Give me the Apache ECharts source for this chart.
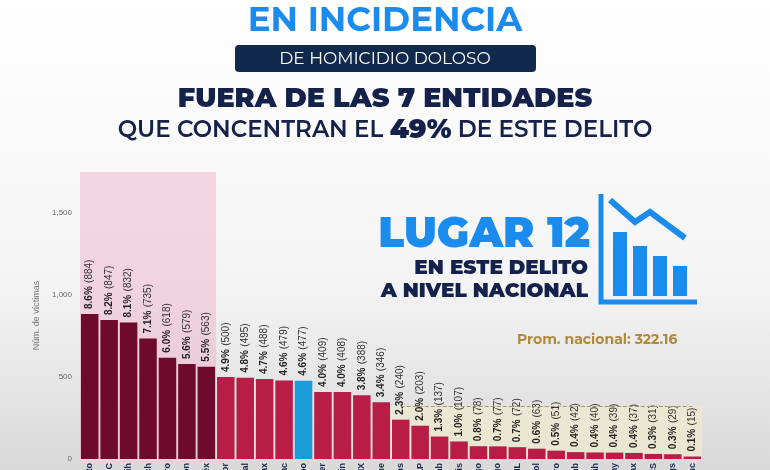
<!DOCTYPE html>
<html><head><meta charset="utf-8">
<script src="https://cdn.jsdelivr.net/npm/echarts@6/dist/echarts.min.js"></script>
<style>html,body{margin:0;padding:0;background:#fff}#c{width:770px;height:470px}</style>
</head><body><div id="c"></div>
<script>
var states = ['Gto','BC','Chih','Mich','Gro','Son','Edo. Méx','Mor','Jal','Oax','Zac','Q. Roo','Ver','Sin','CDMX','Pue','Tamps','SLP','Tab','Chis','Hgo','Dgo','NL','Col','Qro','Camb','Coah','Nay','Tlax','BCS','Ags','Yuc'];
var victims = [884,847,832,735,618,579,563,500,495,488,479,477,409,408,388,346,240,203,137,107,78,77,72,63,51,42,40,39,37,31,29,15];
var shares = ['8.6%','8.2%','8.1%','7.1%','6.0%','5.6%','5.5%','4.9%','4.8%','4.7%','4.6%','4.6%','4.0%','4.0%','3.8%','3.4%','2.3%','2.0%','1.3%','1.0%','0.8%','0.7%','0.7%','0.6%','0.5%','0.4%','0.4%','0.4%','0.4%','0.3%','0.3%','0.1%'];
var yTicks = [0,500,1000,1500];
var average = 322.16;
var focusIdx = 11;

var chart = echarts.init(document.getElementById('c'));
var data = victims.map(function(v,i){
    var col = i<7 ? '#6e0a2c' : (i==focusIdx ? '#1a9ad8' : '#b81d47');
    return {value:v, itemStyle:{color:col}};
});
var F = 'Montserrat, "Open Sans", "DejaVu Sans", sans-serif';
var option = {
    backgroundColor: {type:'linear',x:0,y:0,x2:0,y2:1,colorStops:[{offset:0,color:'#ffffff'},{offset:0.6,color:'#f4f4f4'},{offset:1,color:'#d9d9d9'}]},
    animation: false,
    grid: {left:80, right:68, top:172, bottom:11, containLabel:false, outerBoundsMode:'none'},
    xAxis: {
        type:'category', data:states,
        axisLine:{show:false}, axisTick:{show:false},
        axisLabel:{rotate:90, color:'#1a2a4a', fontSize:9, fontWeight:'bold', margin:4, interval:0}
    },
    yAxis: {
        type:'value', min:0, max:1750, interval:500,
        name:'Núm. de víctimas', nameLocation:'middle', nameGap:38,
        nameTextStyle:{color:'#777', fontSize:9},
        splitLine:{show:false},
        axisLabel:{color:'#666', fontSize:8, formatter:function(v){return yTicks.indexOf(v)>=0 ? v.toLocaleString('en-US') : '';}}
    },
    series: [{
        type:'bar', data:data, barCategoryGap:'10%',
        label:{
            show:true, position:'top', rotate:90, align:'left', verticalAlign:'middle', distance:5,
            formatter:function(p){return '{b|'+shares[p.dataIndex]+'} {n|('+p.value+')}';},
            rich:{b:{fontWeight:'bold',fontSize:10,color:'#222'}, n:{fontSize:10,color:'#333'}}
        },
        markArea:{silent:true, data:[
            [{xAxis:states[0], yAxis:1750, itemStyle:{color:'rgba(240,170,200,0.45)'}},{xAxis:states[6], yAxis:0}],
            [{xAxis:states[16], yAxis:average, itemStyle:{color:'rgba(238,234,205,0.7)'}},{xAxis:states[31], yAxis:0}]
        ]},
        markLine:{silent:true, symbol:'none', label:{show:false},
            lineStyle:{color:'#a89a6a', type:'dashed', width:1},
            data:[[{xAxis:states[16], yAxis:average},{xAxis:states[31], yAxis:average}]]}
    }],
    graphic: [
        {type:'text', left:'center', top:4, style:{text:'EN INCIDENCIA', fill:'#1a8cf0', font:'bold 34px '+F}},
        {type:'rect', shape:{x:235,y:45,width:301,height:27,r:4}, style:{fill:'#11294d'}},
        {type:'text', left:'center', top:50, style:{text:'DE HOMICIDIO DOLOSO', fill:'#fff', font:'17px '+F}},
        {type:'text', left:'center', top:86, style:{text:'FUERA DE LAS 7 ENTIDADES', fill:'#14214a', font:'900 27px '+F}},
        {type:'text', left:'center', top:117, style:{rich:{a:{fill:'#14214a',font:'600 23px '+F}, b:{fill:'#14214a',font:'900 27px '+F}}, text:'{a|QUE CONCENTRAN EL }{b|49%}{a| DE ESTE DELITO}'}},
        {type:'text', right:180, top:214, style:{text:'LUGAR 12', fill:'#1a8cf0', font:'900 42px '+F, align:'right'}},
        {type:'text', right:182, top:258, style:{text:'EN ESTE DELITO', fill:'#14214a', font:'900 20px '+F, align:'right'}},
        {type:'text', right:182, top:281, style:{text:'A NIVEL NACIONAL', fill:'#14214a', font:'900 20px '+F, align:'right'}},
        {type:'polyline', shape:{points:[[601,194],[601,302],[697,302]]}, style:{stroke:'#1a8cf0', lineWidth:5, fill:null}},
        {type:'rect', shape:{x:613,y:232,width:14,height:64}, style:{fill:'#1a8cf0'}},
        {type:'rect', shape:{x:633,y:246,width:14,height:50}, style:{fill:'#1a8cf0'}},
        {type:'rect', shape:{x:653,y:256,width:14,height:40}, style:{fill:'#1a8cf0'}},
        {type:'rect', shape:{x:673,y:266,width:14,height:30}, style:{fill:'#1a8cf0'}},
        {type:'polyline', shape:{points:[[610,200],[635,222],[650,212],[685,238]]}, style:{stroke:'#1a8cf0', lineWidth:6, fill:null}},
        {type:'text', left:517, top:333, style:{text:'Prom. nacional: 322.16', fill:'#b08a3a', font:'bold 14px '+F}}
    ]
};
chart.setOption(option);
</script></body></html>
